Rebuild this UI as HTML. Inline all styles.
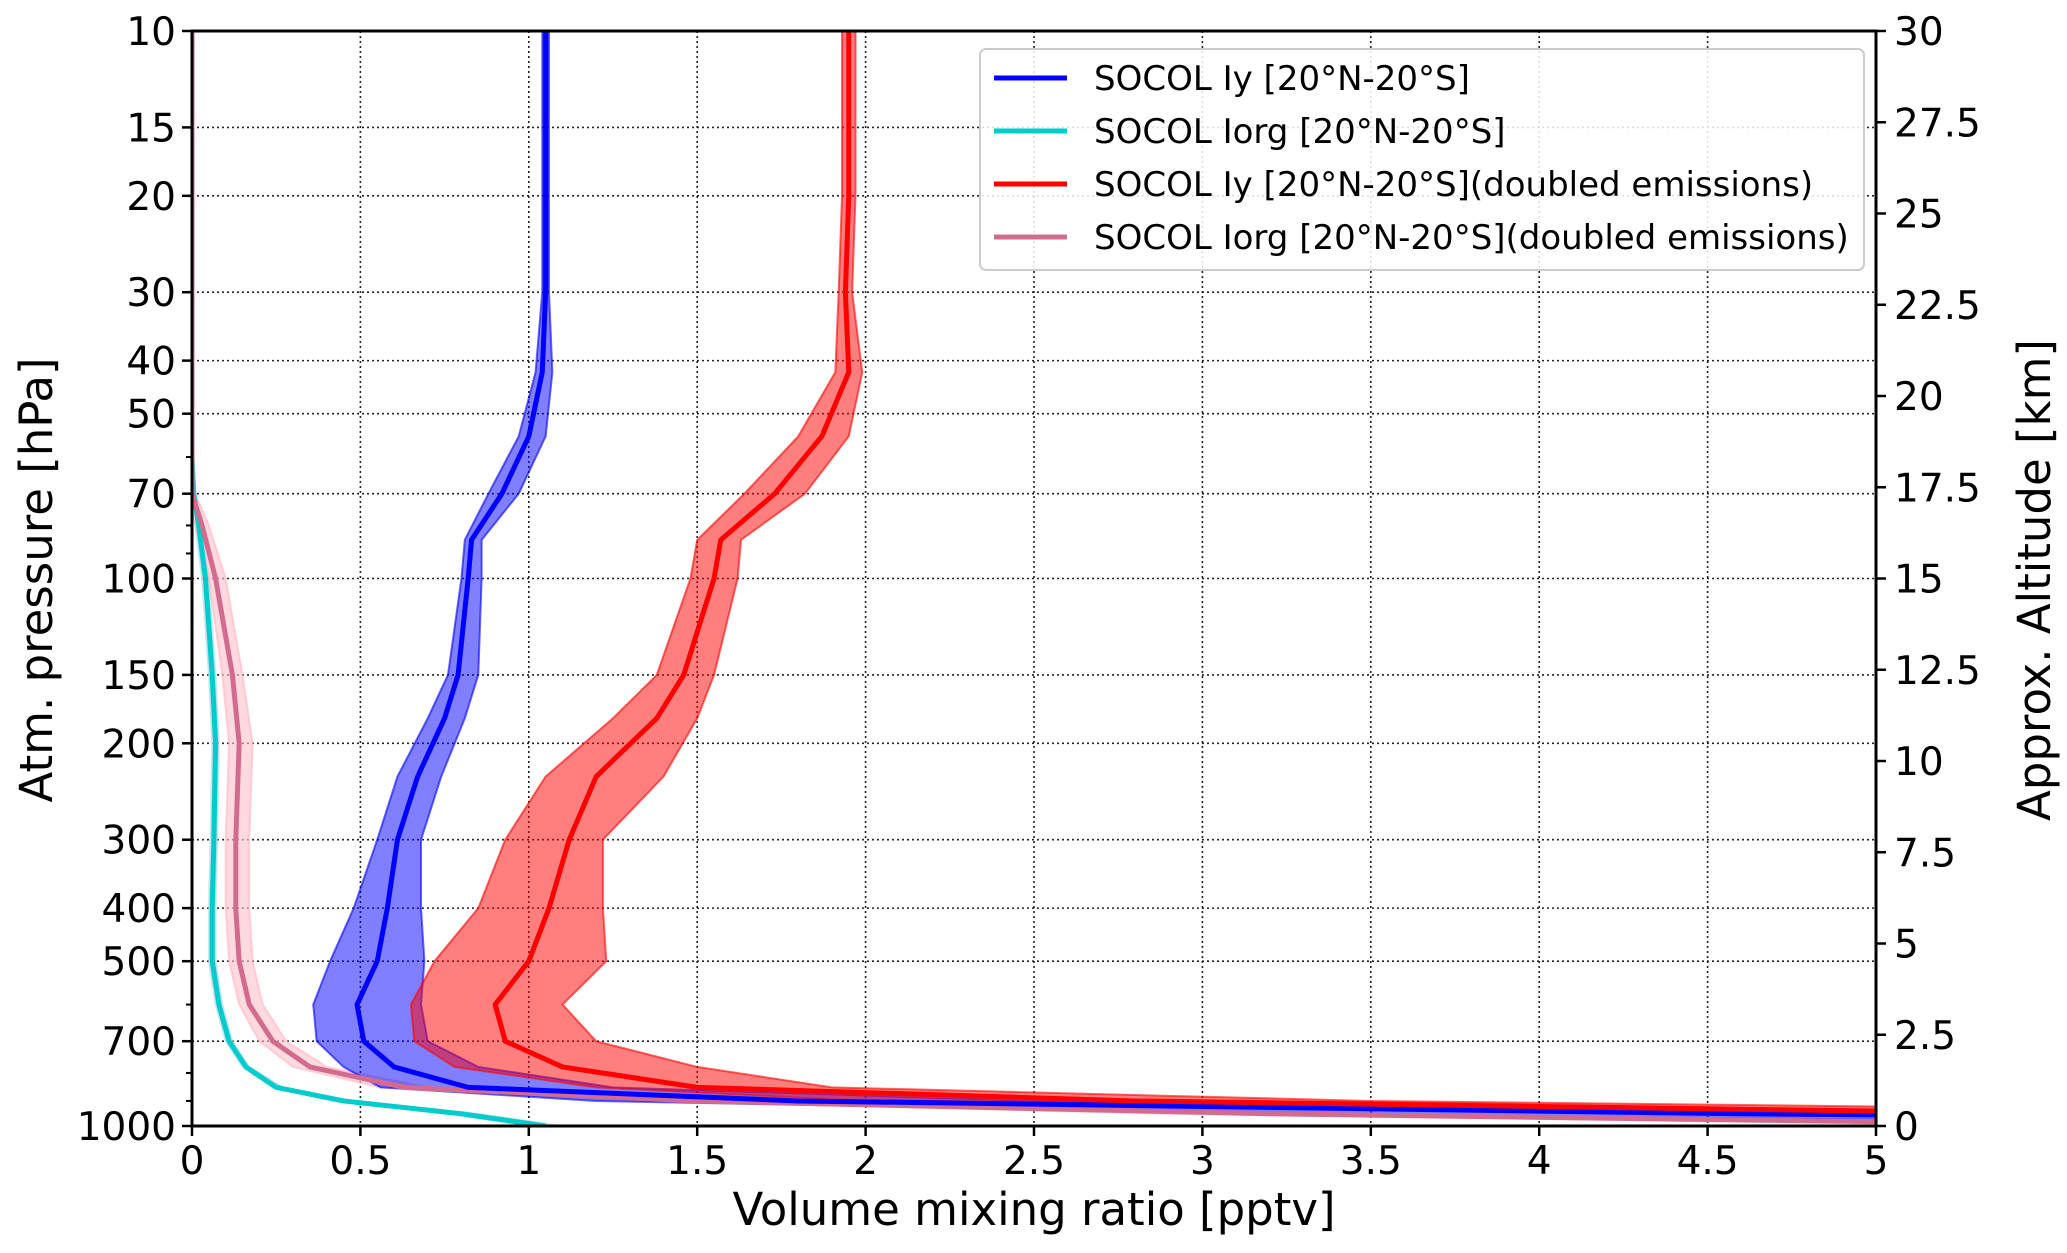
<!DOCTYPE html>
<html><head><meta charset="utf-8"><style>
html,body{margin:0;padding:0;background:#fff;}
svg{display:block;font-family:"DejaVu Sans","Liberation Sans",sans-serif;}
</style></head><body>
<svg id="chart" width="2067" height="1253" viewBox="0 0 2067 1253">
<defs><clipPath id="plotclip"><rect x="192" y="31" width="1684" height="1095"/></clipPath></defs>
<g id="grid"></g>
<g id="series" clip-path="url(#plotclip)"></g>
<g id="axes"></g>
<g id="legend"></g>
</svg>
<script>
const pressures = [10,20,30,42,55,70,85,100,150,180,230,300,400,500,600,700,780,850,900,950,1000];
const iyMean   = [1.05,1.05,1.05,1.04,1.00,0.92,0.83,0.82,0.79,0.75,0.67,0.61,0.58,0.55,0.49,0.51,0.60,0.82,1.8,4.6,9];
const iyLow    = [1.04,1.04,1.04,1.02,0.97,0.88,0.81,0.80,0.76,0.70,0.61,0.55,0.48,0.41,0.36,0.37,0.45,0.56,1.2,3.2,7];
const iyHigh   = [1.06,1.06,1.06,1.07,1.05,0.97,0.86,0.86,0.85,0.81,0.74,0.68,0.68,0.69,0.68,0.70,0.85,1.25,2.5,6,11];
const iy2Mean  = [1.95,1.95,1.94,1.95,1.87,1.73,1.57,1.55,1.46,1.38,1.20,1.12,1.06,1.00,0.90,0.93,1.10,1.50,2.8,5.6,10];
const iy2Low   = [1.93,1.93,1.92,1.91,1.80,1.64,1.50,1.48,1.38,1.25,1.05,0.93,0.85,0.72,0.65,0.66,0.78,1.20,2.0,4.5,8];
const iy2High  = [1.97,1.97,1.96,1.99,1.95,1.82,1.63,1.62,1.55,1.50,1.40,1.22,1.22,1.23,1.10,1.20,1.50,1.90,3.5,7,12];
const iorgPres = [10,60,70,80,100,150,200,300,400,500,600,700,780,850,900,950,1000];
const iorgMean = [0,0,0.005,0.02,0.04,0.06,0.07,0.065,0.06,0.06,0.08,0.11,0.16,0.25,0.45,0.80,1.05];
const iorgLow  = [0,0,0.0,0.01,0.03,0.05,0.06,0.055,0.05,0.05,0.07,0.10,0.15,0.24,0.42,0.76,1.0];
const iorgHigh = [0,0,0.01,0.03,0.05,0.07,0.08,0.075,0.07,0.07,0.09,0.12,0.17,0.27,0.48,0.85,1.1];
const iorg2Mean= [0,0,0.0,0.03,0.07,0.12,0.14,0.13,0.13,0.14,0.17,0.24,0.35,0.63,1.5,3.2,6];
const iorg2Low = [0,0,0.0,0.01,0.05,0.09,0.11,0.10,0.10,0.11,0.14,0.20,0.30,0.56,1.35,2.9,5.5];
const iorg2High= [0,0,0.01,0.05,0.10,0.15,0.18,0.17,0.17,0.18,0.21,0.28,0.40,0.70,1.65,3.5,6.5];
const xTicks = [0,0.5,1,1.5,2,2.5,3,3.5,4,4.5,5];
const pTicks = [10,15,20,30,40,50,70,100,150,200,300,400,500,700,1000];
const pMinor = [60,80,90,600,800,900];
const altTicks = [0,2.5,5,7.5,10,12.5,15,17.5,20,22.5,25,27.5,30];

const L=192,R=1876,T=31,B=1126;
const NS="http://www.w3.org/2000/svg";
const X=v=>L+(R-L)*v/5;
const Y=p=>T+(B-T)*(Math.log10(p)-1)/2;
const A=a=>B-(B-T)*a/30;
function mk(tag,attrs,parent,text){const e=document.createElementNS(NS,tag);for(const k in attrs)e.setAttribute(k,attrs[k]);if(text!==undefined)e.textContent=text;parent.appendChild(e);return e;}
const grid=document.getElementById('grid'),ser=document.getElementById('series'),ax=document.getElementById('axes'),leg=document.getElementById('legend');
const gs={stroke:'#222','stroke-width':1.6,'stroke-dasharray':'2,3',fill:'none'};
xTicks.forEach(v=>{const l=mk('line',Object.assign({x1:X(v),x2:X(v),y1:T,y2:B},gs),grid);

});
pTicks.forEach(p=>{const l=mk('line',Object.assign({x1:L,x2:R,y1:Y(p),y2:Y(p)},gs),grid);

});
function band(ps,lo,hi,fill,op,stroke,name){
 let d='M'+ps.map((p,i)=>X(lo[i])+','+Y(p)).join('L');
 for(let i=ps.length-1;i>=0;i--)d+='L'+X(hi[i])+','+Y(ps[i]);
 const e=mk('path',{d:d+'Z',fill:fill,'fill-opacity':op,stroke:stroke,'stroke-opacity':0.6,'stroke-width':2},ser);
 
 }
function line(ps,vals,col,name){
 const e=mk('polyline',{points:ps.map((p,i)=>X(vals[i])+','+Y(p)).join(' '),fill:'none',stroke:col,'stroke-width':5,'stroke-linejoin':'round'},ser);
 
 }
band(iorgPres,iorgLow,iorgHigh,'#add8e6',0.6,'#add8e6','iorg-band');
band(iorgPres,iorg2Low,iorg2High,'#ffc0cb',0.6,'#ffb6c1','iorg-doubled-band');
band(pressures,iyLow,iyHigh,'#0000ff',0.5,'#0000ff','iy-band');
band(pressures,iy2Low,iy2High,'#ff0000',0.5,'#ff0000','iy-doubled-band');
line(iorgPres,iorgMean,'#00cccc','iorg-line');
line(iorgPres,iorg2Mean,'#d36b8f','iorg-doubled-line');
line(pressures,iyMean,'#0000ff','iy-line');
line(pressures,iy2Mean,'#ff0000','iy-doubled-line');
const fr=mk('rect',{x:L,y:T,width:R-L,height:B-T,fill:'none',stroke:'#000','stroke-width':3},ax);


const fs=39;
xTicks.forEach(v=>{mk('line',{x1:X(v),x2:X(v),y1:B,y2:B+10,stroke:'#000','stroke-width':2.5},ax);
 const t=mk('text',{x:X(v),y:B+48,'text-anchor':'middle','font-size':fs},ax,String(v));
 
 });
pTicks.forEach(p=>{mk('line',{x1:L-10,x2:L,y1:Y(p),y2:Y(p),stroke:'#000','stroke-width':2.5},ax);
 const t=mk('text',{x:L-16,y:Y(p)+14,'text-anchor':'end','font-size':fs},ax,String(p));
 
 });
pMinor.forEach(p=>{mk('line',{x1:L-6,x2:L,y1:Y(p),y2:Y(p),stroke:'#000','stroke-width':2},ax);});
altTicks.forEach(a=>{mk('line',{x1:R,x2:R+10,y1:A(a),y2:A(a),stroke:'#000','stroke-width':2.5},ax);
 const t=mk('text',{x:R+18,y:A(a)+14,'font-size':fs},ax,String(a));
 
 });
let t=mk('text',{x:(L+R)/2,y:1225,'text-anchor':'middle','font-size':45},ax,'Volume mixing ratio [pptv]');


t=mk('text',{x:0,y:0,'text-anchor':'middle','font-size':45,transform:'translate(52,580) rotate(-90)'},ax,'Atm. pressure [hPa]');


t=mk('text',{x:0,y:0,'text-anchor':'middle','font-size':45,transform:'translate(2050,580) rotate(-90)'},ax,'Approx. Altitude [km]');


const lb=mk('rect',{x:980,y:49,width:884,height:221,rx:6,fill:'#fff','fill-opacity':0.85,stroke:'#ccc','stroke-width':2},leg);


const legLabels=['SOCOL Iy [20°N-20°S]','SOCOL Iorg [20°N-20°S]','SOCOL Iy [20°N-20°S](doubled emissions)','SOCOL Iorg [20°N-20°S](doubled emissions)'];
const legColors=['#0000ff','#00cccc','#ff0000','#d36b8f'];
legLabels.forEach((s,i)=>{const y=78+i*53;
 const g=mk('g',{},leg);
 
 
 mk('line',{x1:994,x2:1067,y1:y,y2:y,stroke:legColors[i],'stroke-width':5},g);
 mk('text',{x:1094,y:y+12,'font-size':34},g,s);});
</script>
</body></html>
